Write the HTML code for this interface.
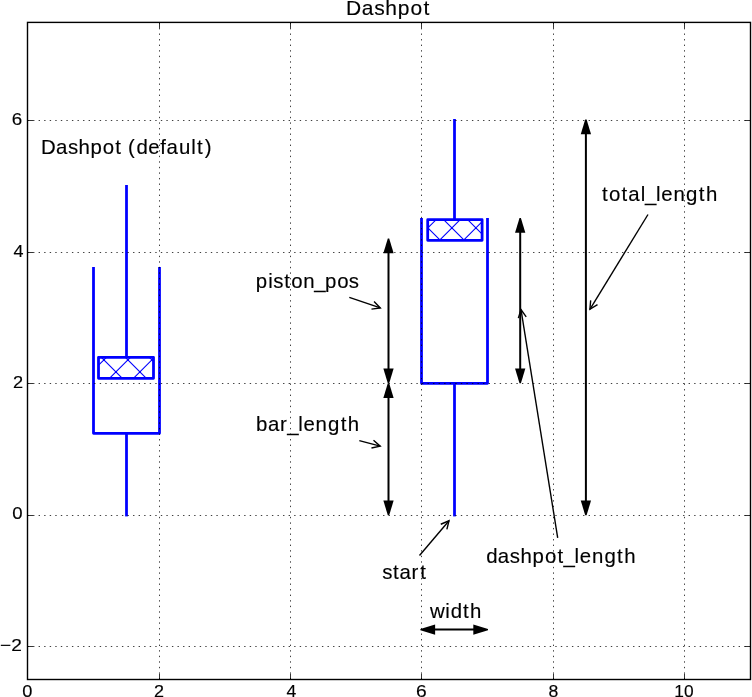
<!DOCTYPE html>
<html><head><meta charset="utf-8"><style>
html,body{margin:0;padding:0;background:#fff;width:752px;height:697px;overflow:hidden}
svg{display:block}
text{font-family:"Liberation Sans",sans-serif;fill:#000;stroke:#000;stroke-width:0.15px}
</style></head><body>
<svg width="752" height="697" viewBox="0 0 752 697">
<rect x="0" y="0" width="752" height="697" fill="#fff"/>
<line x1="126.50" y1="185.00" x2="126.50" y2="356.00" stroke="#0000ff" stroke-width="2.78" />
<line x1="126.50" y1="433.30" x2="126.50" y2="516.40" stroke="#0000ff" stroke-width="2.78" />
<polyline points="93.50,267.00 93.50,433.30 159.50,433.30 159.50,267.00" fill="none" stroke="#0000ff" stroke-width="2.78" stroke-linejoin="round" />
<clipPath id="h1"><rect x="98.5" y="357.3" width="55.0" height="21.0"/></clipPath>
<path d="M35.50,380.30L60.50,355.30M59.50,380.30L84.50,355.30M83.50,380.30L108.50,355.30M107.50,380.30L132.50,355.30M131.50,380.30L156.50,355.30M155.50,380.30L180.50,355.30M179.50,380.30L204.50,355.30M195.30,355.30L220.30,380.30M171.30,355.30L196.30,380.30M147.30,355.30L172.30,380.30M123.30,355.30L148.30,380.30M99.30,355.30L124.30,380.30M75.30,355.30L100.30,380.30M51.30,355.30L76.30,380.30" stroke="#0000ff" stroke-width="1.1" fill="none" clip-path="url(#h1)"/>
<polygon points="98.50,357.30 153.50,357.30 153.50,378.30 98.50,378.30" fill="none" stroke="#0000ff" stroke-width="2.78" stroke-linejoin="round" />
<line x1="454.50" y1="119.00" x2="454.50" y2="219.00" stroke="#0000ff" stroke-width="2.78" />
<line x1="454.50" y1="383.30" x2="454.50" y2="516.40" stroke="#0000ff" stroke-width="2.78" />
<polyline points="421.50,218.00 421.50,383.30 487.50,383.30 487.50,218.00" fill="none" stroke="#0000ff" stroke-width="2.78" stroke-linejoin="round" />
<clipPath id="h2"><rect x="427.7" y="219.7" width="54.400000000000034" height="20.600000000000023"/></clipPath>
<path d="M365.50,242.30L390.10,217.70M389.50,242.30L414.10,217.70M413.50,242.30L438.10,217.70M437.50,242.30L462.10,217.70M461.50,242.30L486.10,217.70M485.50,242.30L510.10,217.70M509.50,242.30L534.10,217.70M513.70,217.70L538.30,242.30M489.70,217.70L514.30,242.30M465.70,217.70L490.30,242.30M441.70,217.70L466.30,242.30M417.70,217.70L442.30,242.30M393.70,217.70L418.30,242.30M369.70,217.70L394.30,242.30" stroke="#0000ff" stroke-width="1.1" fill="none" clip-path="url(#h2)"/>
<polygon points="427.70,219.70 482.10,219.70 482.10,240.30 427.70,240.30" fill="none" stroke="#0000ff" stroke-width="2.78" stroke-linejoin="round" />
<line x1="388.50" y1="252.30" x2="388.50" y2="369.60" stroke="#000" stroke-width="2.0" />
<polygon points="387.80,238.60 389.20,238.60 393.65,253.30 383.35,253.30" fill="#000"/>
<polygon points="387.80,383.30 389.20,383.30 393.65,368.60 383.35,368.60" fill="#000"/>
<line x1="388.50" y1="397.00" x2="388.50" y2="501.50" stroke="#000" stroke-width="2.0" />
<polygon points="387.80,383.30 389.20,383.30 393.65,398.00 383.35,398.00" fill="#000"/>
<polygon points="387.80,515.20 389.20,515.20 393.65,500.50 383.35,500.50" fill="#000"/>
<line x1="520.20" y1="231.70" x2="520.20" y2="369.60" stroke="#000" stroke-width="2.0" />
<polygon points="519.50,218.00 520.90,218.00 525.35,232.70 515.05,232.70" fill="#000"/>
<polygon points="519.50,383.30 520.90,383.30 525.35,368.60 515.05,368.60" fill="#000"/>
<line x1="585.90" y1="133.30" x2="585.90" y2="501.50" stroke="#000" stroke-width="2.0" />
<polygon points="585.20,119.60 586.60,119.60 591.05,134.30 580.75,134.30" fill="#000"/>
<polygon points="585.20,515.20 586.60,515.20 591.05,500.50 580.75,500.50" fill="#000"/>
<line x1="434.10" y1="629.60" x2="474.30" y2="629.60" stroke="#000" stroke-width="2.0" />
<polygon points="420.40,628.90 420.40,630.30 435.10,634.75 435.10,624.45" fill="#000"/>
<polygon points="488.00,628.90 488.00,630.30 473.30,634.75 473.30,624.45" fill="#000"/>
<line x1="349.30" y1="297.30" x2="380.33" y2="307.91" stroke="#000" stroke-width="1.39"/>
<polyline points="371.47,309.10 380.33,307.91 374.06,301.53" fill="none" stroke="#000" stroke-width="1.39" stroke-linejoin="miter" stroke-miterlimit="10"/>
<line x1="359.30" y1="440.65" x2="380.22" y2="446.15" stroke="#000" stroke-width="1.39"/>
<polyline points="371.47,447.98 380.22,446.15 373.50,440.25" fill="none" stroke="#000" stroke-width="1.39" stroke-linejoin="miter" stroke-miterlimit="10"/>
<line x1="419.50" y1="555.50" x2="449.01" y2="520.76" stroke="#000" stroke-width="1.39"/>
<polyline points="446.88,529.44 449.01,520.76 440.78,524.26" fill="none" stroke="#000" stroke-width="1.39" stroke-linejoin="miter" stroke-miterlimit="10"/>
<line x1="557.70" y1="537.80" x2="521.00" y2="309.59" stroke="#000" stroke-width="1.39"/>
<polyline points="526.21,316.86 521.00,309.59 518.32,318.13" fill="none" stroke="#000" stroke-width="1.39" stroke-linejoin="miter" stroke-miterlimit="10"/>
<line x1="648.00" y1="214.50" x2="589.91" y2="309.29" stroke="#000" stroke-width="1.39"/>
<polyline points="590.68,300.38 589.91,309.29 597.50,304.56" fill="none" stroke="#000" stroke-width="1.39" stroke-linejoin="miter" stroke-miterlimit="10"/>
<path d="M159.5,22.4V679.5M290.5,22.4V679.5M421.5,22.4V679.5M553.5,22.4V679.5M684.5,22.4V679.5M27.5,120.5H750.5M27.5,252.5H750.5M27.5,383.5H750.5M27.5,515.5H750.5M27.5,646.5H750.5" stroke="#000" stroke-width="0.75" stroke-dasharray="1.3889 4.1667" fill="none"/>
<path d="M27.5,679.5v-5.56M27.5,22.4v5.56M159.5,679.5v-5.56M159.5,22.4v5.56M290.5,679.5v-5.56M290.5,22.4v5.56M421.5,679.5v-5.56M421.5,22.4v5.56M553.5,679.5v-5.56M553.5,22.4v5.56M684.5,679.5v-5.56M684.5,22.4v5.56M27.5,120.5h5.56M750.5,120.5h-5.56M27.5,252.5h5.56M750.5,252.5h-5.56M27.5,383.5h5.56M750.5,383.5h-5.56M27.5,515.5h5.56M750.5,515.5h-5.56M27.5,646.5h5.56M750.5,646.5h-5.56" stroke="#000" stroke-width="0.8" fill="none"/>
<rect x="27.5" y="22.4" width="723.00" height="657.10" fill="none" stroke="#000" stroke-width="1.4"/>
<filter id="gs" x="0" y="0" width="752" height="697" filterUnits="userSpaceOnUse"><feColorMatrix type="saturate" values="0"/></filter><g filter="url(#gs)">
<text transform="translate(346.12,15.00) scale(1.0000,1)" font-size="21.00">D</text>
<text transform="translate(361.74,15.00) scale(1.0000,1)" font-size="21.00">a</text>
<text transform="translate(374.26,15.00) scale(1.0000,1)" font-size="21.00">s</text>
<text transform="translate(385.18,15.00) scale(1.0000,1)" font-size="21.00">h</text>
<text transform="translate(397.75,15.00) scale(1.0000,1)" font-size="21.00">p</text>
<text transform="translate(410.54,15.00) scale(1.0000,1)" font-size="21.00">o</text>
<text transform="translate(423.53,15.00) scale(1.0000,1)" font-size="21.00">t</text>
<text transform="translate(40.97,153.80) scale(1.0000,1)" font-size="20.40">D</text>
<text transform="translate(55.96,153.80) scale(1.0000,1)" font-size="20.40">a</text>
<text transform="translate(67.99,153.80) scale(1.0000,1)" font-size="20.40">s</text>
<text transform="translate(78.48,153.80) scale(1.0000,1)" font-size="20.40">h</text>
<text transform="translate(90.54,153.80) scale(1.0000,1)" font-size="20.40">p</text>
<text transform="translate(102.83,153.80) scale(1.0000,1)" font-size="20.40">o</text>
<text transform="translate(115.30,153.80) scale(1.0000,1)" font-size="20.40">t</text>
<text transform="translate(127.97,153.80) scale(1.0000,1)" font-size="20.40">(</text>
<text transform="translate(136.39,153.80) scale(1.0000,1)" font-size="20.40">d</text>
<text transform="translate(148.27,153.80) scale(1.0000,1)" font-size="20.40">e</text>
<text transform="translate(160.27,153.80) scale(1.0000,1)" font-size="20.40">f</text>
<text transform="translate(166.53,153.80) scale(1.0000,1)" font-size="20.40">a</text>
<text transform="translate(179.02,153.80) scale(1.0000,1)" font-size="20.40">u</text>
<text transform="translate(191.21,153.80) scale(1.0000,1)" font-size="20.40">l</text>
<text transform="translate(197.05,153.80) scale(1.0000,1)" font-size="20.40">t</text>
<text transform="translate(204.69,153.80) scale(1.0000,1)" font-size="20.40">)</text>
<text transform="translate(255.87,287.70) scale(1.0000,1)" font-size="20.40">p</text>
<text transform="translate(268.32,287.70) scale(1.0000,1)" font-size="20.40">i</text>
<text transform="translate(273.31,287.70) scale(1.0000,1)" font-size="20.40">s</text>
<text transform="translate(284.24,287.70) scale(1.0000,1)" font-size="20.40">t</text>
<text transform="translate(291.18,287.70) scale(1.0000,1)" font-size="20.40">o</text>
<text transform="translate(303.22,287.70) scale(1.0000,1)" font-size="20.40">n</text>
<text transform="translate(314.23,287.70) scale(1.0000,1)" font-size="20.40">_</text>
<text transform="translate(324.92,287.70) scale(1.0000,1)" font-size="20.40">p</text>
<text transform="translate(337.20,287.70) scale(1.0000,1)" font-size="20.40">o</text>
<text transform="translate(348.81,287.70) scale(1.0000,1)" font-size="20.40">s</text>
<text transform="translate(255.97,430.90) scale(1.0000,1)" font-size="20.40">b</text>
<text transform="translate(267.93,430.90) scale(1.0000,1)" font-size="20.40">a</text>
<text transform="translate(280.05,430.90) scale(1.0000,1)" font-size="20.40">r</text>
<text transform="translate(287.20,430.90) scale(1.0000,1)" font-size="20.40">_</text>
<text transform="translate(298.13,430.90) scale(1.0000,1)" font-size="20.40">l</text>
<text transform="translate(303.42,430.90) scale(1.0000,1)" font-size="20.40">e</text>
<text transform="translate(315.54,430.90) scale(1.0000,1)" font-size="20.40">n</text>
<text transform="translate(328.10,430.90) scale(1.0000,1)" font-size="20.40">g</text>
<text transform="translate(340.64,430.90) scale(1.0000,1)" font-size="20.40">t</text>
<text transform="translate(347.80,430.90) scale(1.0000,1)" font-size="20.40">h</text>
<text transform="translate(382.14,578.80) scale(1.0000,1)" font-size="20.40">s</text>
<text transform="translate(393.03,578.80) scale(1.0000,1)" font-size="20.40">t</text>
<text transform="translate(399.54,578.80) scale(1.0000,1)" font-size="20.40">a</text>
<text transform="translate(411.55,578.80) scale(1.0000,1)" font-size="20.40">r</text>
<text transform="translate(420.29,578.80) scale(1.0000,1)" font-size="20.40">t</text>
<text transform="translate(486.13,562.70) scale(1.0000,1)" font-size="20.40">d</text>
<text transform="translate(497.66,562.70) scale(1.0000,1)" font-size="20.40">a</text>
<text transform="translate(509.80,562.70) scale(1.0000,1)" font-size="20.40">s</text>
<text transform="translate(520.38,562.70) scale(1.0000,1)" font-size="20.40">h</text>
<text transform="translate(532.55,562.70) scale(1.0000,1)" font-size="20.40">p</text>
<text transform="translate(544.94,562.70) scale(1.0000,1)" font-size="20.40">o</text>
<text transform="translate(557.52,562.70) scale(1.0000,1)" font-size="20.40">t</text>
<text transform="translate(563.49,562.70) scale(1.0000,1)" font-size="20.40">_</text>
<text transform="translate(574.46,562.70) scale(1.0000,1)" font-size="20.40">l</text>
<text transform="translate(579.77,562.70) scale(1.0000,1)" font-size="20.40">e</text>
<text transform="translate(591.93,562.70) scale(1.0000,1)" font-size="20.40">n</text>
<text transform="translate(604.53,562.70) scale(1.0000,1)" font-size="20.40">g</text>
<text transform="translate(617.11,562.70) scale(1.0000,1)" font-size="20.40">t</text>
<text transform="translate(624.30,562.70) scale(1.0000,1)" font-size="20.40">h</text>
<text transform="translate(601.99,200.90) scale(1.0000,1)" font-size="20.40">t</text>
<text transform="translate(609.01,200.90) scale(1.0000,1)" font-size="20.40">o</text>
<text transform="translate(621.61,200.90) scale(1.0000,1)" font-size="20.40">t</text>
<text transform="translate(628.23,200.90) scale(1.0000,1)" font-size="20.40">a</text>
<text transform="translate(640.78,200.90) scale(1.0000,1)" font-size="20.40">l</text>
<text transform="translate(644.99,200.90) scale(1.0000,1)" font-size="20.40">_</text>
<text transform="translate(655.98,200.90) scale(1.0000,1)" font-size="20.40">l</text>
<text transform="translate(661.30,200.90) scale(1.0000,1)" font-size="20.40">e</text>
<text transform="translate(673.48,200.90) scale(1.0000,1)" font-size="20.40">n</text>
<text transform="translate(686.10,200.90) scale(1.0000,1)" font-size="20.40">g</text>
<text transform="translate(698.70,200.90) scale(1.0000,1)" font-size="20.40">t</text>
<text transform="translate(705.90,200.90) scale(1.0000,1)" font-size="20.40">h</text>
<text transform="translate(429.90,617.55) scale(1.0000,1)" font-size="20.40">w</text>
<text transform="translate(445.31,617.55) scale(1.0000,1)" font-size="20.40">i</text>
<text transform="translate(450.86,617.55) scale(1.0000,1)" font-size="20.40">d</text>
<text transform="translate(463.10,617.55) scale(1.0000,1)" font-size="20.40">t</text>
<text transform="translate(470.10,617.55) scale(1.0000,1)" font-size="20.40">h</text>
<text transform="translate(11.86,124.70) scale(1.1065,1)" font-size="17.00">6</text>
<text transform="translate(13.39,256.75) scale(1.0600,1)" font-size="17.00">4</text>
<text transform="translate(12.89,387.95) scale(1.0730,1)" font-size="17.00">2</text>
<text transform="translate(12.25,518.75) scale(1.0964,1)" font-size="17.00">0</text>
<text transform="translate(0.04,651.00) scale(1.1256,1)" font-size="17.00">−2</text>
<text transform="translate(22.37,696.90) scale(1.0718,1)" font-size="17.00">0</text>
<text transform="translate(154.00,696.90) scale(1.0601,1)" font-size="17.00">2</text>
<text transform="translate(286.50,696.90) scale(1.0367,1)" font-size="17.00">4</text>
<text transform="translate(415.94,696.90) scale(1.1320,1)" font-size="17.00">6</text>
<text transform="translate(548.45,696.90) scale(1.0388,1)" font-size="17.00">8</text>
<text transform="translate(674.30,696.90) scale(1.0202,1)" font-size="17.00">10</text>
</g>
</svg>
</body></html>
